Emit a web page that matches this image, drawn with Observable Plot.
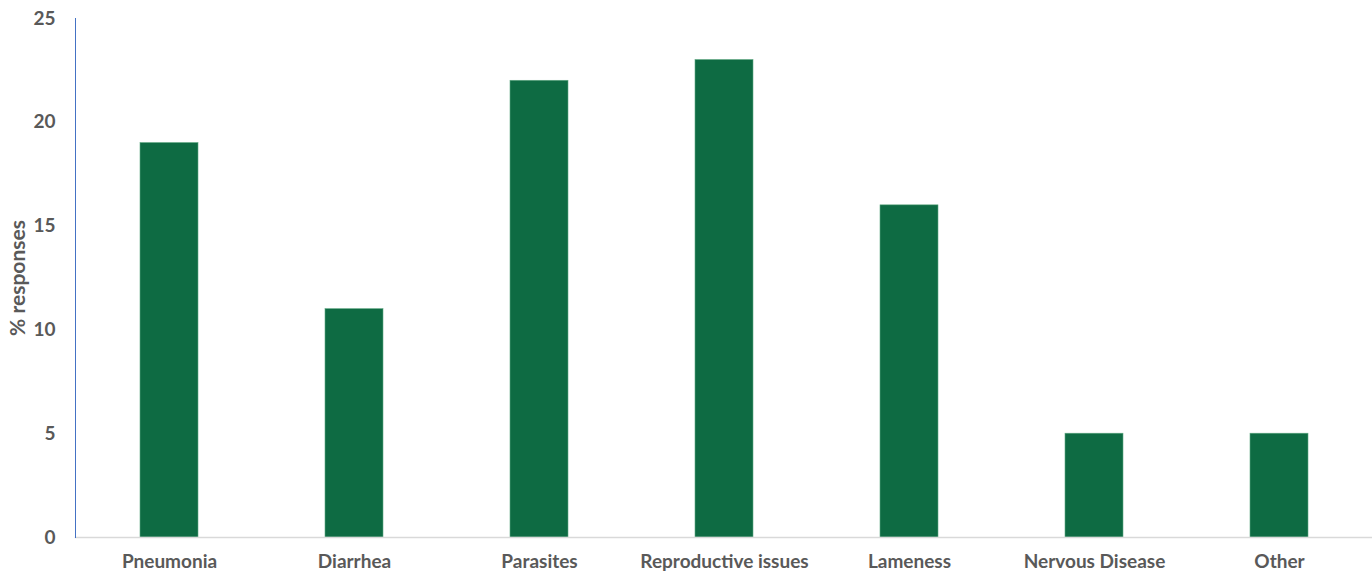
<!DOCTYPE html>
<html>
<head>
<meta charset="utf-8">
<script src="https://cdn.jsdelivr.net/npm/d3@7"></script>
<script src="https://cdn.jsdelivr.net/npm/@observablehq/plot@0.6"></script>
<style>
  html, body { margin: 0; padding: 0; background: #fff; }
  #chart svg { display: block; font-family: Lato, "Open Sans", sans-serif; }
</style>
</head>
<body>
<div id="chart"></div>
<script>
const categories = ["Pneumonia", "Diarrhea", "Parasites", "Reproductive issues", "Lameness", "Nervous Disease", "Other"];
const values = [19, 11, 22, 23, 16, 5, 5];
const yTicks = [0, 5, 10, 15, 20, 25];

const data = categories.map((c, i) => ({category: c, value: values[i]}));

const chart = Plot.plot({
  width: 1372,
  height: 575,
  marginLeft: 75,
  marginRight: 0,
  marginTop: 18,
  marginBottom: 38,
  style: {fontFamily: "Lato, 'Open Sans', sans-serif", fontSize: "19px", fontWeight: "bold", color: "#595959", background: "#fff"},
  x: {domain: categories, paddingInner: 0.687, paddingOuter: 0.3435, align: 0.5},
  y: {domain: [0, 25]},
  marks: [
    Plot.barY(data, {x: "category", y: "value", fill: "#0E6B43", stroke: "#5fa882", strokeWidth: 0.6}),
    Plot.frame({anchor: "bottom", stroke: "#d9d9d9", strokeWidth: 1.5}),
    Plot.frame({anchor: "left", stroke: "#4472C4", strokeWidth: 1}),
    Plot.axisX({tickSize: 0, tickPadding: 17, label: null, fill: "#595959", fontSize: 19, fontWeight: "bold"}),
    Plot.axisY({ticks: yTicks, tickSize: 0, tickPadding: 20, label: null, fill: "#595959", fontSize: 19, fontWeight: "bold"}),
    Plot.text(["% responses"], {frameAnchor: "left", textAnchor: "middle", dx: -57, rotate: -90, fill: "#595959", fontSize: 21, fontWeight: "bold"})
  ]
});
document.getElementById("chart").appendChild(chart);
</script>
</body>
</html>
